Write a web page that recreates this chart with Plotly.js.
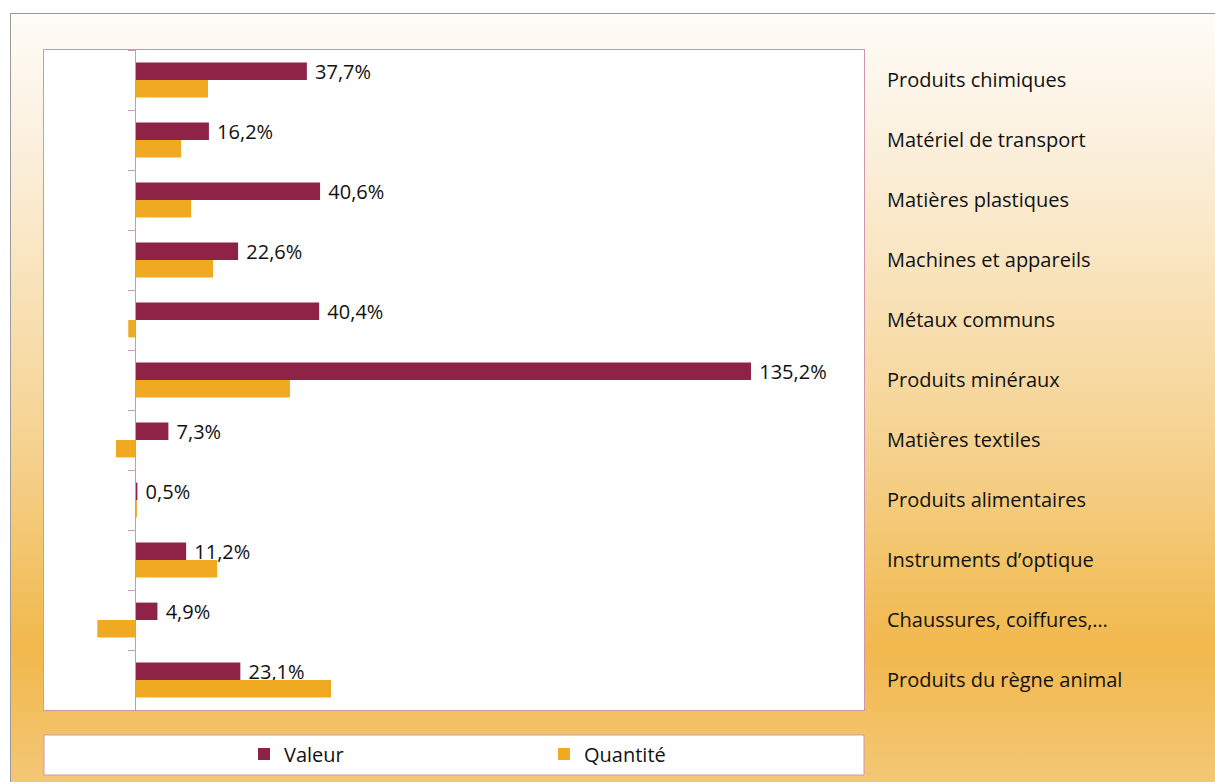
<!DOCTYPE html>
<html><head><meta charset="utf-8">
<script src="https://cdn.plot.ly/plotly-3.0.1.min.js"></script>
<style>
html,body{margin:0;padding:0;width:1215px;height:782px;overflow:hidden;background:#fff;}
#bg{position:absolute;left:10px;top:13px;width:1210px;height:775px;border-left:1px solid #9a9a9a;border-top:1px solid #9a9a9a;
background:linear-gradient(to bottom,#fefcf8 0%,#fbefdb 18%,#f8e0b4 38%,#f5d08b 58%,#f2c060 74%,#f1b84c 82%,#f4c878 100%);}
#chart{position:absolute;left:0;top:0;width:1215px;height:782px;}
</style></head>
<body><div id="bg"></div><div id="chart"></div>
<script>
const categories = ["Produits chimiques","Matériel de transport","Matières plastiques","Machines et appareils","Métaux communs","Produits minéraux","Matières textiles","Produits alimentaires","Instruments d’optique","Chaussures, coiffures,…","Produits du règne animal"];
const valeur = [37.7,16.2,40.6,22.6,40.4,135.2,7.3,0.5,11.2,4.9,23.1];
const quantite = [16.0,10.1,12.3,17.1,-1.5,34.0,-4.2,0.4,18.0,-8.3,43.0];
const valeurLabels = valeur.map(v => v.toFixed(1).replace('.', ',') + '%');
const boundaries = categories.map((c,i) => i - 0.5).concat([categories.length - 0.5]);

const FONT = "'Open Sans', sans-serif";
const pink = '#cf97ad';

const traces = [
  {type:'bar', orientation:'h', name:'Valeur', y:categories, x:valeur,
   marker:{color:'#8e2247'}, text:valeurLabels, texttemplate:'\u00a0%{text}',
   textposition:'outside', cliponaxis:false, constraintext:'none',
   textfont:{family:FONT, size:20, color:'#111'}, hoverinfo:'x+y'},
  {type:'bar', orientation:'h', name:'Quantité', y:categories, x:quantite,
   marker:{color:'#efaa22'}, hoverinfo:'x+y'}
];

const W = 1215, H = 782;
const L = 44, R = 864, T = 50, B = 710;
const layout = {
  width:W, height:H,
  paper_bgcolor:'rgba(0,0,0,0)', plot_bgcolor:'#ffffff',
  margin:{l:L, r:W-R, t:T, b:H-B, pad:0, autoexpand:false},
  barmode:'group', bargap:0.42, bargroupgap:0,
  font:{family:FONT, size:20, color:'#111'},
  showlegend:true,
  xaxis:{range:[-20,160], showgrid:false, zeroline:false, showticklabels:false, ticks:'',
         showline:true, mirror:true, linecolor:pink, linewidth:1, fixedrange:true},
  yaxis:{type:'category', categoryarray:categories, autorange:'reversed', side:'right',
         showline:true, mirror:true, linecolor:pink, linewidth:1,
         ticks:'', showgrid:false, zeroline:false, ticklabelstandoff:18, automargin:false,
         tickfont:{family:FONT, size:20, color:'#111'}},
  yaxis2:{overlaying:'y', anchor:'free', position:(135-L)/(R-L), range:[categories.length-0.5,-0.5],
          tickmode:'array', tickvals:boundaries, ticks:'outside', ticklen:7, tickcolor:pink, tickwidth:1,
          showticklabels:false, showline:true, linecolor:pink, linewidth:1, showgrid:false, zeroline:false},
  legend:{orientation:'h', xref:'container', yref:'container', x:(258-14)/W, xanchor:'left',
          y:1-(754)/H, yanchor:'middle',
          bgcolor:'rgba(0,0,0,0)', borderwidth:0, entrywidth:255, entrywidthmode:'pixels',
          font:{family:FONT, size:20, color:'#111'}, itemclick:false, itemdoubleclick:false},
  shapes:[{type:'rect', xref:'paper', yref:'paper', x0:0, x1:1, y0:-(735-B)/(B-T), y1:-(775-B)/(B-T),
           fillcolor:'#ffffff', line:{color:pink, width:1}, layer:'below'}]
};
traces.push({type:'scatter', x:[], y:[], yaxis:'y2', showlegend:false, hoverinfo:'skip'});
Plotly.newPlot('chart', traces, layout, {displayModeBar:false, staticPlot:true});
</script></body></html>
